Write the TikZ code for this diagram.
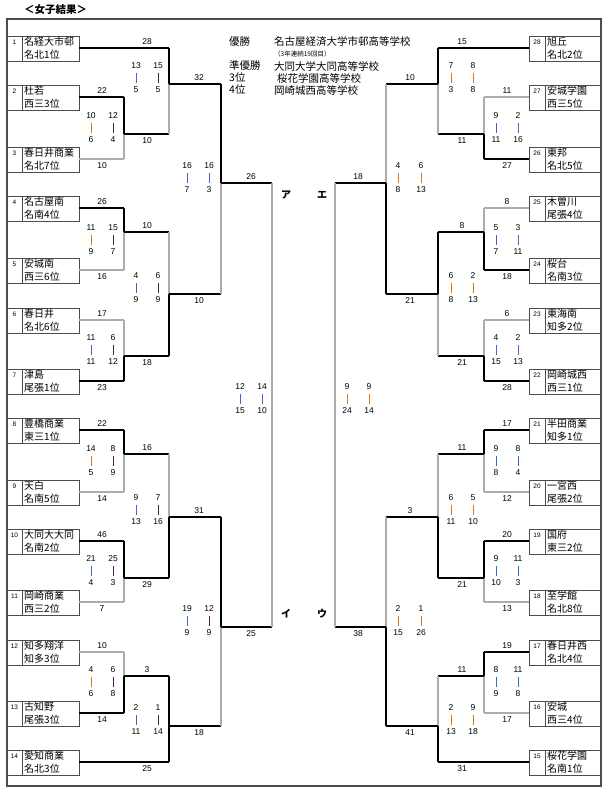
\documentclass[tikz,border=0pt]{standalone}
\usepackage{fontspec}
\setmainfont{Liberation Sans}
\newfontfamily\jp{Noto Sans CJK JP}
\definecolor{barorange}{RGB}{214,120,30}
\definecolor{barblue}{RGB}{50,110,200}
\definecolor{barpurple}{RGB}{90,20,90}

% one match: x, top, out, bottom, next x, winner (t/b)
\newcommand{\duel}[6]{%
  \if#6t\draw[win] (#1,#2) -- (#1,#3); \draw[loss] (#1,#3) -- (#1,#4);
  \else\draw[loss] (#1,#2) -- (#1,#3); \draw[win] (#1,#3) -- (#1,#4);\fi
  \draw[win] (#1,#3) -- (#5,#3);}
% set scores: x, y, upper, lower, bar colour
\newcommand{\setsc}[5]{%
  \node[lbl] at (#1,#2-12) {#3};
  \draw[#5, line width=1pt] (#1,#2-5) -- (#1,#2+5);
  \node[lbl] at (#1,#2+12) {#4};}

\begin{document}
\begin{tikzpicture}[x=1pt, y=-1pt,
  loss/.style={draw=gray!65, line width=1.3pt},
  win/.style={draw=black, line width=2.4pt},
  box/.style={draw=gray!60!black, line width=0.9pt},
  lbl/.style={font=\fontsize{8.5}{9}\selectfont, inner sep=0pt},
  num/.style={font=\fontsize{6.5}{7}\selectfont, inner sep=0pt},
  tname/.style={font=\jp\fontsize{10}{12.5}\selectfont, align=left, anchor=north west, inner sep=0pt},
  hd/.style={font=\jp\fontsize{10.5}{12}\selectfont, anchor=west, inner sep=0pt},
  kana/.style={font=\jp\bfseries\fontsize{10}{12}\selectfont, inner sep=0pt}]

  \useasboundingbox (0,0) rectangle (610,798);
  \node[hd, font=\jp\bfseries\fontsize{10.5}{12}\selectfont] (title) at (24,10) {＜女子結果＞};
  \draw[box, line width=1.3pt] (7,19) rectangle (601,786);

  % header
  \node[hd] (h1) at (229,42) {優勝};
  \node[hd] (h1s) at (274,42) {名古屋経済大学市邨高等学校};
  \node[hd, font=\jp\fontsize{6.5}{7}\selectfont] (h1n) at (274,54) {（3年連続19回目）};
  \node[hd] (h2) at (229,66) {準優勝};
  \node[hd] (h2s) at (274,66) {大同大学大同高等学校};
  \node[hd] (h3) at (229,78) {3位};
  \node[hd] (h3s) at (277,78) {桜花学園高等学校};
  \node[hd] (h4) at (229,90) {4位};
  \node[hd] (h4s) at (274,90) {岡崎城西高等学校};

  % teams, left
  \foreach \n/\y/\a/\b in {1/48/名経大市邨/名北1位, 2/97/杜若/西三3位, 3/159/春日井商業/名北7位,
      4/208/名古屋南/名南4位, 5/270/安城南/西三6位, 6/320/春日井/名北6位, 7/381/津島/尾張1位,
      8/430/豊橋商業/東三1位, 9/492/天白/名南5位, 10/541/大同大大同/名南2位, 11/602/岡崎商業/西三2位,
      12/652/知多翔洋/知多3位, 13/713/古知野/尾張3位, 14/762/愛知商業/名北3位} {
    \draw[box] (7,\y-12) rectangle (79,\y+13);
    \draw[box] (22,\y-12) -- (22,\y+13);
    \node[num] (nL\n) at (14.5,\y-6) {\n};
    \node[tname] (tL\n) at (24,\y-11) {\a\\\b};
  }
  % teams, right
  \foreach \n/\y/\a/\b in {28/48/旭丘/名北2位, 27/97/安城学園/西三5位, 26/159/東邦/名北5位,
      25/208/木曽川/尾張4位, 24/270/桜台/名南3位, 23/320/東海南/知多2位, 22/381/岡崎城西/西三1位,
      21/430/半田商業/知多1位, 20/492/一宮西/尾張2位, 19/541/国府/東三2位, 18/602/至学館/名北8位,
      17/652/春日井西/名北4位, 16/713/安城/西三4位, 15/762/桜花学園/名南1位} {
    \draw[box] (529,\y-12) rectangle (601,\y+13);
    \draw[box] (545,\y-12) -- (545,\y+13);
    \node[num] (nR\n) at (537,\y-6) {\n};
    \node[tname] (tR\n) at (547,\y-11) {\a\\\b};
  }

  % left bracket
  \foreach \y in {159,270,320,492,602,652} \draw[loss] (79,\y) -- (124,\y);
  \foreach \y in {97,208,381,430,541,713} \draw[win] (79,\y) -- (124,\y);
  \draw[win] (79,48) -- (169,48);
  \draw[win] (79,762) -- (169,762);
  \duel{124}{97}{134}{159}{169}{t}
  \duel{169}{48}{84}{134}{221}{t}
  \duel{124}{208}{232}{270}{169}{t}
  \duel{124}{320}{356}{381}{169}{b}
  \duel{169}{232}{294}{356}{221}{b}
  \duel{221}{84}{183}{294}{272}{t}
  \duel{124}{430}{454}{492}{169}{t}
  \duel{124}{541}{578}{602}{169}{t}
  \duel{169}{454}{517}{578}{221}{b}
  \duel{124}{652}{676}{713}{169}{b}
  \duel{169}{676}{726}{762}{221}{b}
  \draw[win] (169,676) -- (169,726);
  \duel{221}{517}{627}{726}{272}{t}
  \draw[loss] (272,183) -- (272,627);

  % right bracket
  \foreach \y in {97,208,320,492,602,713} \draw[loss] (529,\y) -- (484,\y);
  \foreach \y in {159,270,381,430,541,652} \draw[win] (529,\y) -- (484,\y);
  \draw[win] (529,48) -- (438,48);
  \draw[win] (529,762) -- (438,762);
  \duel{484}{97}{134}{159}{438}{b}
  \duel{438}{48}{84}{134}{386}{t}
  \duel{484}{208}{232}{270}{438}{b}
  \duel{484}{320}{356}{381}{438}{b}
  \duel{438}{232}{294}{356}{386}{t}
  \duel{386}{84}{183}{294}{335}{b}
  \duel{484}{430}{454}{492}{438}{t}
  \duel{484}{541}{578}{602}{438}{t}
  \duel{438}{454}{517}{578}{386}{b}
  \duel{484}{652}{676}{713}{438}{t}
  \duel{438}{676}{726}{762}{386}{b}
  \duel{386}{517}{627}{726}{335}{b}
  \draw[loss] (335,183) -- (335,627);

  % scores above / below the lines
  \foreach \x/\y/\s in {147/48/28, 102/97/22, 199/84/32, 102/208/26, 147/232/10, 102/320/17,
      251/183/26, 102/430/22, 147/454/16, 102/541/46, 199/517/31, 102/652/10, 147/676/3,
      462/48/15, 507/97/11, 410/84/10, 507/208/8, 462/232/8, 507/320/6, 358/183/18,
      507/430/17, 462/454/11, 507/541/20, 410/517/3, 507/652/19, 462/676/11}
    \node[lbl] at (\x,\y-6.5) {\s};
  \foreach \x/\y/\s in {102/159/10, 147/134/10, 102/270/16, 102/381/23, 147/356/18, 199/294/10,
      102/492/14, 102/602/7, 147/578/29, 102/713/14, 147/762/25, 199/726/18, 251/627/25,
      507/159/27, 462/134/11, 507/270/18, 507/381/28, 462/356/21, 410/294/21,
      507/492/12, 507/602/13, 462/578/21, 507/713/17, 462/762/31, 410/726/41, 358/627/38}
    \node[lbl] at (\x,\y+7) {\s};

  % set scores, left
  \setsc{91}{128}{10}{6}{barorange} \setsc{113}{128}{12}{4}{barpurple}
  \setsc{136}{78}{13}{5}{barblue} \setsc{158}{78}{15}{5}{barpurple}
  \setsc{91}{240}{11}{9}{barorange} \setsc{113}{240}{15}{7}{barpurple}
  \setsc{136}{288}{4}{9}{barblue} \setsc{158}{288}{6}{9}{barpurple}
  \setsc{91}{350}{11}{11}{barblue} \setsc{113}{350}{6}{12}{barpurple}
  \setsc{187}{178}{16}{7}{barblue} \setsc{209}{178}{16}{3}{barblue}
  \setsc{240}{399}{12}{15}{barblue} \setsc{262}{399}{14}{10}{barblue}
  \setsc{91}{461}{14}{5}{barorange} \setsc{113}{461}{8}{9}{barpurple}
  \setsc{136}{510}{9}{13}{barblue} \setsc{158}{510}{7}{16}{barpurple}
  \setsc{91}{571}{21}{4}{barblue} \setsc{113}{571}{25}{3}{barpurple}
  \setsc{187}{621}{19}{9}{barblue} \setsc{209}{621}{12}{9}{barpurple}
  \setsc{91}{682}{4}{6}{barorange} \setsc{113}{682}{6}{8}{barpurple}
  \setsc{136}{720}{2}{11}{barblue} \setsc{158}{720}{1}{14}{barpurple}
  % set scores, right
  \setsc{451}{78}{7}{3}{barorange} \setsc{473}{78}{8}{8}{barorange}
  \setsc{496}{128}{9}{11}{barblue} \setsc{518}{128}{2}{16}{barblue}
  \setsc{398}{178}{4}{8}{barorange} \setsc{421}{178}{6}{13}{barorange}
  \setsc{496}{240}{5}{7}{barblue} \setsc{518}{240}{3}{11}{barblue}
  \setsc{451}{288}{6}{8}{barorange} \setsc{473}{288}{2}{13}{barorange}
  \setsc{496}{350}{4}{15}{barblue} \setsc{518}{350}{2}{13}{barblue}
  \setsc{347}{399}{9}{24}{barorange} \setsc{369}{399}{9}{14}{barorange}
  \setsc{496}{461}{9}{8}{barblue} \setsc{518}{461}{8}{4}{barblue}
  \setsc{451}{510}{6}{11}{barorange} \setsc{473}{510}{5}{10}{barorange}
  \setsc{496}{571}{9}{10}{barblue} \setsc{518}{571}{11}{3}{barblue}
  \setsc{398}{621}{2}{15}{barorange} \setsc{421}{621}{1}{26}{barorange}
  \setsc{496}{682}{8}{9}{barblue} \setsc{518}{682}{11}{8}{barblue}
  \setsc{451}{720}{2}{13}{barorange} \setsc{473}{720}{9}{18}{barorange}

  % block letters
  \node[kana] (kA) at (286,195) {ア};
  \node[kana] (kI) at (286,614) {イ};
  \node[kana] (kE) at (322,195) {エ};
  \node[kana] (kU) at (322,614) {ウ};
\end{tikzpicture}
\end{document}
